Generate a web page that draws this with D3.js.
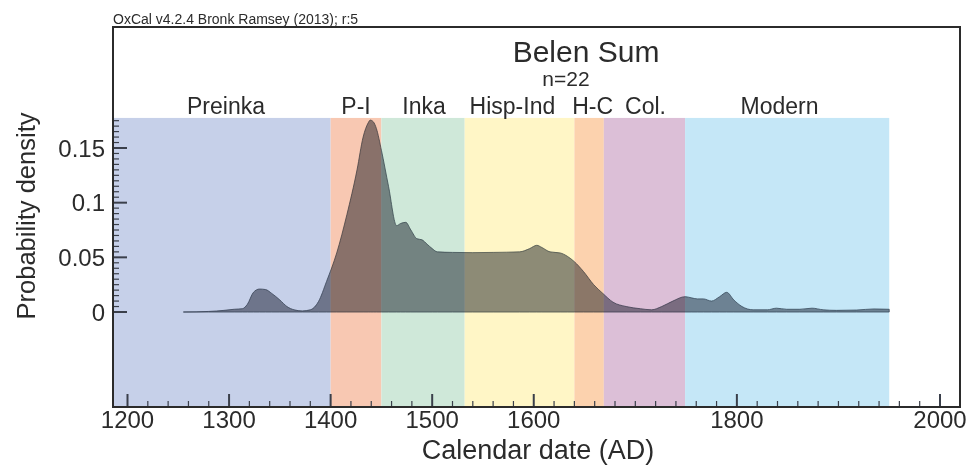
<!DOCTYPE html>
<html>
<head>
<meta charset="utf-8">
<script src="https://cdn.jsdelivr.net/npm/d3@7"></script>
<style>
  body { margin: 0; background: #fff; }
  text { font-family: "Liberation Sans", Arial, sans-serif; fill: #2b2b2b; }
</style>
</head>
<body>
<div id="chart"></div>
<script>
// period bands
var periodNames = ["Preinka", "P-I", "Inka", "Hisp-Ind", "H-C", "Col.", "Modern"]
var periodStart = [1185, 1400, 1450, 1532, 1640, 1669, 1749]
var periodEnd   = [1400, 1450, 1532, 1640, 1669, 1749, 1950]
var periodLabelAt = [1297, 1425, 1492, 1579, 1658, 1710, 1842]
var periodColors = ["#c6d0e9", "#f8c8b2", "#cfe8d9", "#fff6c6", "#fcd2ae", "#dcbfd7", "#c5e7f7"]

// summed probability
var years = [1255, 1280, 1295, 1305, 1313, 1318, 1324, 1330, 1336, 1342, 1350, 1357, 1364, 1372, 1380,
  1388, 1396, 1406, 1416, 1426, 1432, 1437, 1439, 1442, 1445, 1450, 1457, 1465, 1469, 1474, 1479,
  1485, 1490, 1495, 1500, 1505, 1520, 1540, 1560, 1586, 1596, 1603, 1608, 1616, 1626, 1633, 1640,
  1649, 1659, 1668, 1678, 1691, 1705, 1716, 1726, 1737, 1749, 1755, 1761, 1767, 1775, 1783, 1790,
  1797, 1805, 1816, 1830, 1839, 1849, 1862, 1874, 1885, 1898, 1918, 1935, 1950]
var density = [0, 0.0005, 0.0015, 0.0025, 0.003, 0.007, 0.018, 0.021, 0.0205, 0.017, 0.011, 0.005, 0.002, 0.001, 0.002,
  0.0095, 0.028, 0.054, 0.089, 0.130, 0.160, 0.173, 0.1755, 0.174, 0.168, 0.148, 0.115, 0.079, 0.081, 0.082, 0.075,
  0.067, 0.066, 0.062, 0.058, 0.055, 0.0545, 0.0543, 0.0545, 0.055, 0.058, 0.061, 0.059, 0.055, 0.054, 0.051, 0.046,
  0.037, 0.025, 0.017, 0.009, 0.005, 0.003, 0.002, 0.005, 0.010, 0.014, 0.013, 0.012, 0.012, 0.010, 0.014, 0.018,
  0.011, 0.005, 0.002, 0.002, 0.0035, 0.0025, 0.0025, 0.0035, 0.002, 0.0015, 0.0018, 0.0028, 0.0025]

var xTickLabels = [1200, 1300, 1400, 1500, 1600, 1800, 2000]
var yTickLabels = [0, 0.05, 0.1, 0.15]

// frame of the plot
var frame = { left: 113, right: 960, top: 27, bottom: 407 }

var svg = d3.select("#chart")
    .append("svg")
    .attr("width", 970)
    .attr("height", 468)

var x = d3.scaleLinear()
    .domain([1200, 2000])
    .range([127.5, 940])

var y = d3.scaleLinear()
    .domain([0, 0.15])
    .range([312, 148])

var data = years.map(function (d, i) { return { year: d, p: density[i] } })

// coloured period bands
svg.append("g")
    .selectAll("rect")
    .data(periodNames)
    .enter()
    .append("rect")
    .attr("x", function (d, i) { return Math.max(frame.left, x(periodStart[i])) })
    .attr("width", function (d, i) { return x(periodEnd[i]) - Math.max(frame.left, x(periodStart[i])) })
    .attr("y", y(0.1775))
    .attr("height", function () { return frame.bottom - y(0.1775) })
    .style("fill", function (d, i) { return periodColors[i] })

// period labels
svg.append("g")
    .selectAll("text")
    .data(periodNames)
    .enter()
    .append("text")
    .attr("x", function (d, i) { return x(periodLabelAt[i]) })
    .attr("y", 114)
    .attr("text-anchor", "middle")
    .style("font-size", "23px")
    .text(function (d) { return d })

// the summed distribution
var area = d3.area()
    .x(function (d) { return x(d.year) })
    .y0(y(0))
    .y1(function (d) { return y(d.p) })
    .curve(d3.curveMonotoneX)

svg.append("path")
    .datum(data)
    .attr("d", area)
    .style("fill", "#8d9098")
    .style("mix-blend-mode", "multiply")
    .attr("stroke", "#48525e")
    .attr("stroke-width", 0.8)

// y axis ticks (inward)
var yMinor = d3.range(0, 0.1751, 0.005)
svg.append("g")
    .selectAll("line")
    .data(yMinor)
    .enter()
    .append("line")
    .attr("x1", frame.left)
    .attr("x2", function (d) { return frame.left + (Math.abs(d * 20 - Math.round(d * 20)) < 1e-6 ? 14 : 6) })
    .attr("y1", function (d) { return y(d) })
    .attr("y2", function (d) { return y(d) })
    .attr("stroke", "#3a3f4a")
    .attr("stroke-width", function (d) { return Math.abs(d * 20 - Math.round(d * 20)) < 1e-6 ? 2 : 1.2 })

svg.append("g")
    .selectAll("text")
    .data(yTickLabels)
    .enter()
    .append("text")
    .attr("x", 105)
    .attr("y", function (d) { return y(d) + 8.5 })
    .attr("text-anchor", "end")
    .style("font-size", "24px")
    .text(function (d) { return d })

// x axis ticks (inward)
var xMinor = d3.range(1200, 2001, 20)
svg.append("g")
    .selectAll("line")
    .data(xMinor)
    .enter()
    .append("line")
    .attr("x1", function (d) { return x(d) })
    .attr("x2", function (d) { return x(d) })
    .attr("y1", frame.bottom)
    .attr("y2", function (d) { return frame.bottom - (xTickLabels.indexOf(d) >= 0 ? 13 : 6) })
    .attr("stroke", "#3a3f4a")
    .attr("stroke-width", function (d) { return xTickLabels.indexOf(d) >= 0 ? 2 : 1.2 })

svg.append("g")
    .selectAll("text")
    .data(xTickLabels)
    .enter()
    .append("text")
    .attr("x", function (d) { return x(d) })
    .attr("y", 428)
    .attr("text-anchor", "middle")
    .style("font-size", "24px")
    .text(function (d) { return d })

// frame
svg.append("rect")
    .attr("x", frame.left)
    .attr("y", frame.top)
    .attr("width", frame.right - frame.left)
    .attr("height", frame.bottom - frame.top)
    .style("fill", "none")
    .attr("stroke", "#2b2b2b")
    .attr("stroke-width", 2)

// titles
svg.append("text")
    .attr("x", 586)
    .attr("y", 62)
    .attr("text-anchor", "middle")
    .style("font-size", "30px")
    .text("Belen Sum")

svg.append("text")
    .attr("x", 566)
    .attr("y", 86)
    .attr("text-anchor", "middle")
    .style("font-size", "21px")
    .text("n=22")

svg.append("text")
    .attr("x", frame.left)
    .attr("y", 24)
    .style("font-size", "14px")
    .text("OxCal v4.2.4 Bronk Ramsey (2013); r:5")

svg.append("text")
    .attr("x", 538)
    .attr("y", 459)
    .attr("text-anchor", "middle")
    .style("font-size", "27px")
    .text("Calendar date (AD)")

svg.append("text")
    .attr("transform", "translate(35,216) rotate(-90)")
    .attr("text-anchor", "middle")
    .style("font-size", "25.5px")
    .text("Probability density")
</script>
</body>
</html>
